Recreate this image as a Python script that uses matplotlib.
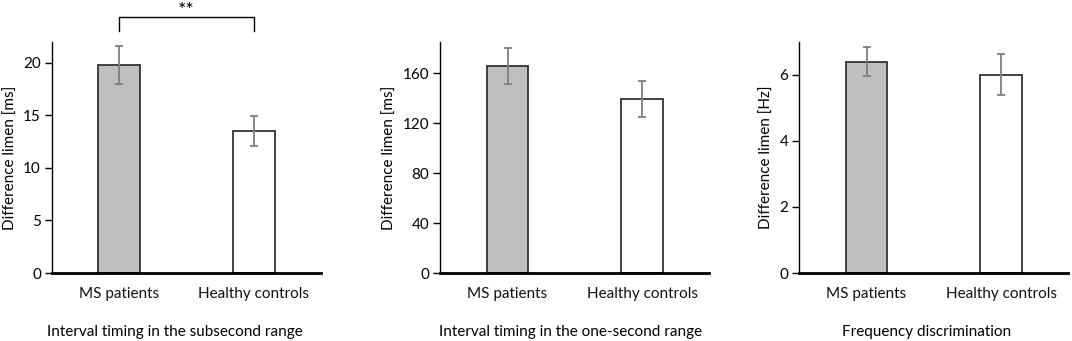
import matplotlib.pyplot as plt
import numpy as np

plt.rcParams['font.family'] = ['Lato', 'DejaVu Sans']

groups = ['MS patients', 'Healthy controls']
titles = ['Interval timing in the subsecond range',
          'Interval timing in the one-second range',
          'Frequency discrimination']
ylabels = ['Difference limen [ms]', 'Difference limen [ms]', 'Difference limen [Hz]']

means_sub = [19.8, 13.5]
err_sub = [1.8, 1.45]
means_one = [166, 139.5]
err_one = [14.5, 14.5]
means_freq = [6.4, 6.0]
err_freq = [0.44, 0.62]

ylims = [22, 185, 7]
yticks = [[0, 5, 10, 15, 20], [0, 40, 80, 120, 160], [0, 2, 4, 6]]

lefts = [0.0485, 0.4107, 0.7456]
width = 0.251
bottom, top = 0.1994, 0.877
title_x = [0.457, 0.486, 0.472]

fig = plt.figure(figsize=(10.72, 3.41), dpi=100)

data = [(means_sub, err_sub), (means_one, err_one), (means_freq, err_freq)]
x = np.arange(len(groups))
fs = 11

for i, (m, e) in enumerate(data):
    ax = fig.add_axes([lefts[i], bottom, width, top - bottom])
    ax.bar(x, m, width=0.31, color=['#bfbfbf', 'white'], edgecolor='#333333',
           linewidth=1.3, zorder=2)
    ax.errorbar(x, m, yerr=e, fmt='none', ecolor='#7f7f7f', elinewidth=1.3,
                capsize=3, capthick=1.3, zorder=3)
    ax.set_xlim(-0.5, 1.5)
    ax.set_ylim(0, ylims[i])
    ax.set_yticks(yticks[i])
    ax.set_xticks(x)
    ax.set_xticklabels(groups, color='#111111')
    ax.tick_params(axis='x', length=0, pad=10, labelsize=fs)
    ax.tick_params(axis='y', length=5, width=1, labelsize=fs, pad=3)
    ax.spines['top'].set_visible(False)
    ax.spines['right'].set_visible(False)
    ax.spines['left'].set_linewidth(1)
    ax.spines['bottom'].set_linewidth(2)
    ax.set_ylabel(ylabels[i], fontsize=fs, labelpad=4)
    ax.set_xlabel(titles[i], fontsize=fs)
    ax.xaxis.label.set_va('center')
    ax.xaxis.set_label_coords(title_x[i], -0.255)

    if i == 0:
        # significance bracket
        yb = 1.107
        ax.plot([0, 0, 1, 1], [1.049, yb, yb, 1.049], color='black', lw=1,
                transform=ax.get_xaxis_transform(), clip_on=False)
        ax.text(0.5, 1.113, '**', ha='center', va='baseline', fontsize=14,
                transform=ax.get_xaxis_transform())

fig.savefig('out.png', dpi=100)
